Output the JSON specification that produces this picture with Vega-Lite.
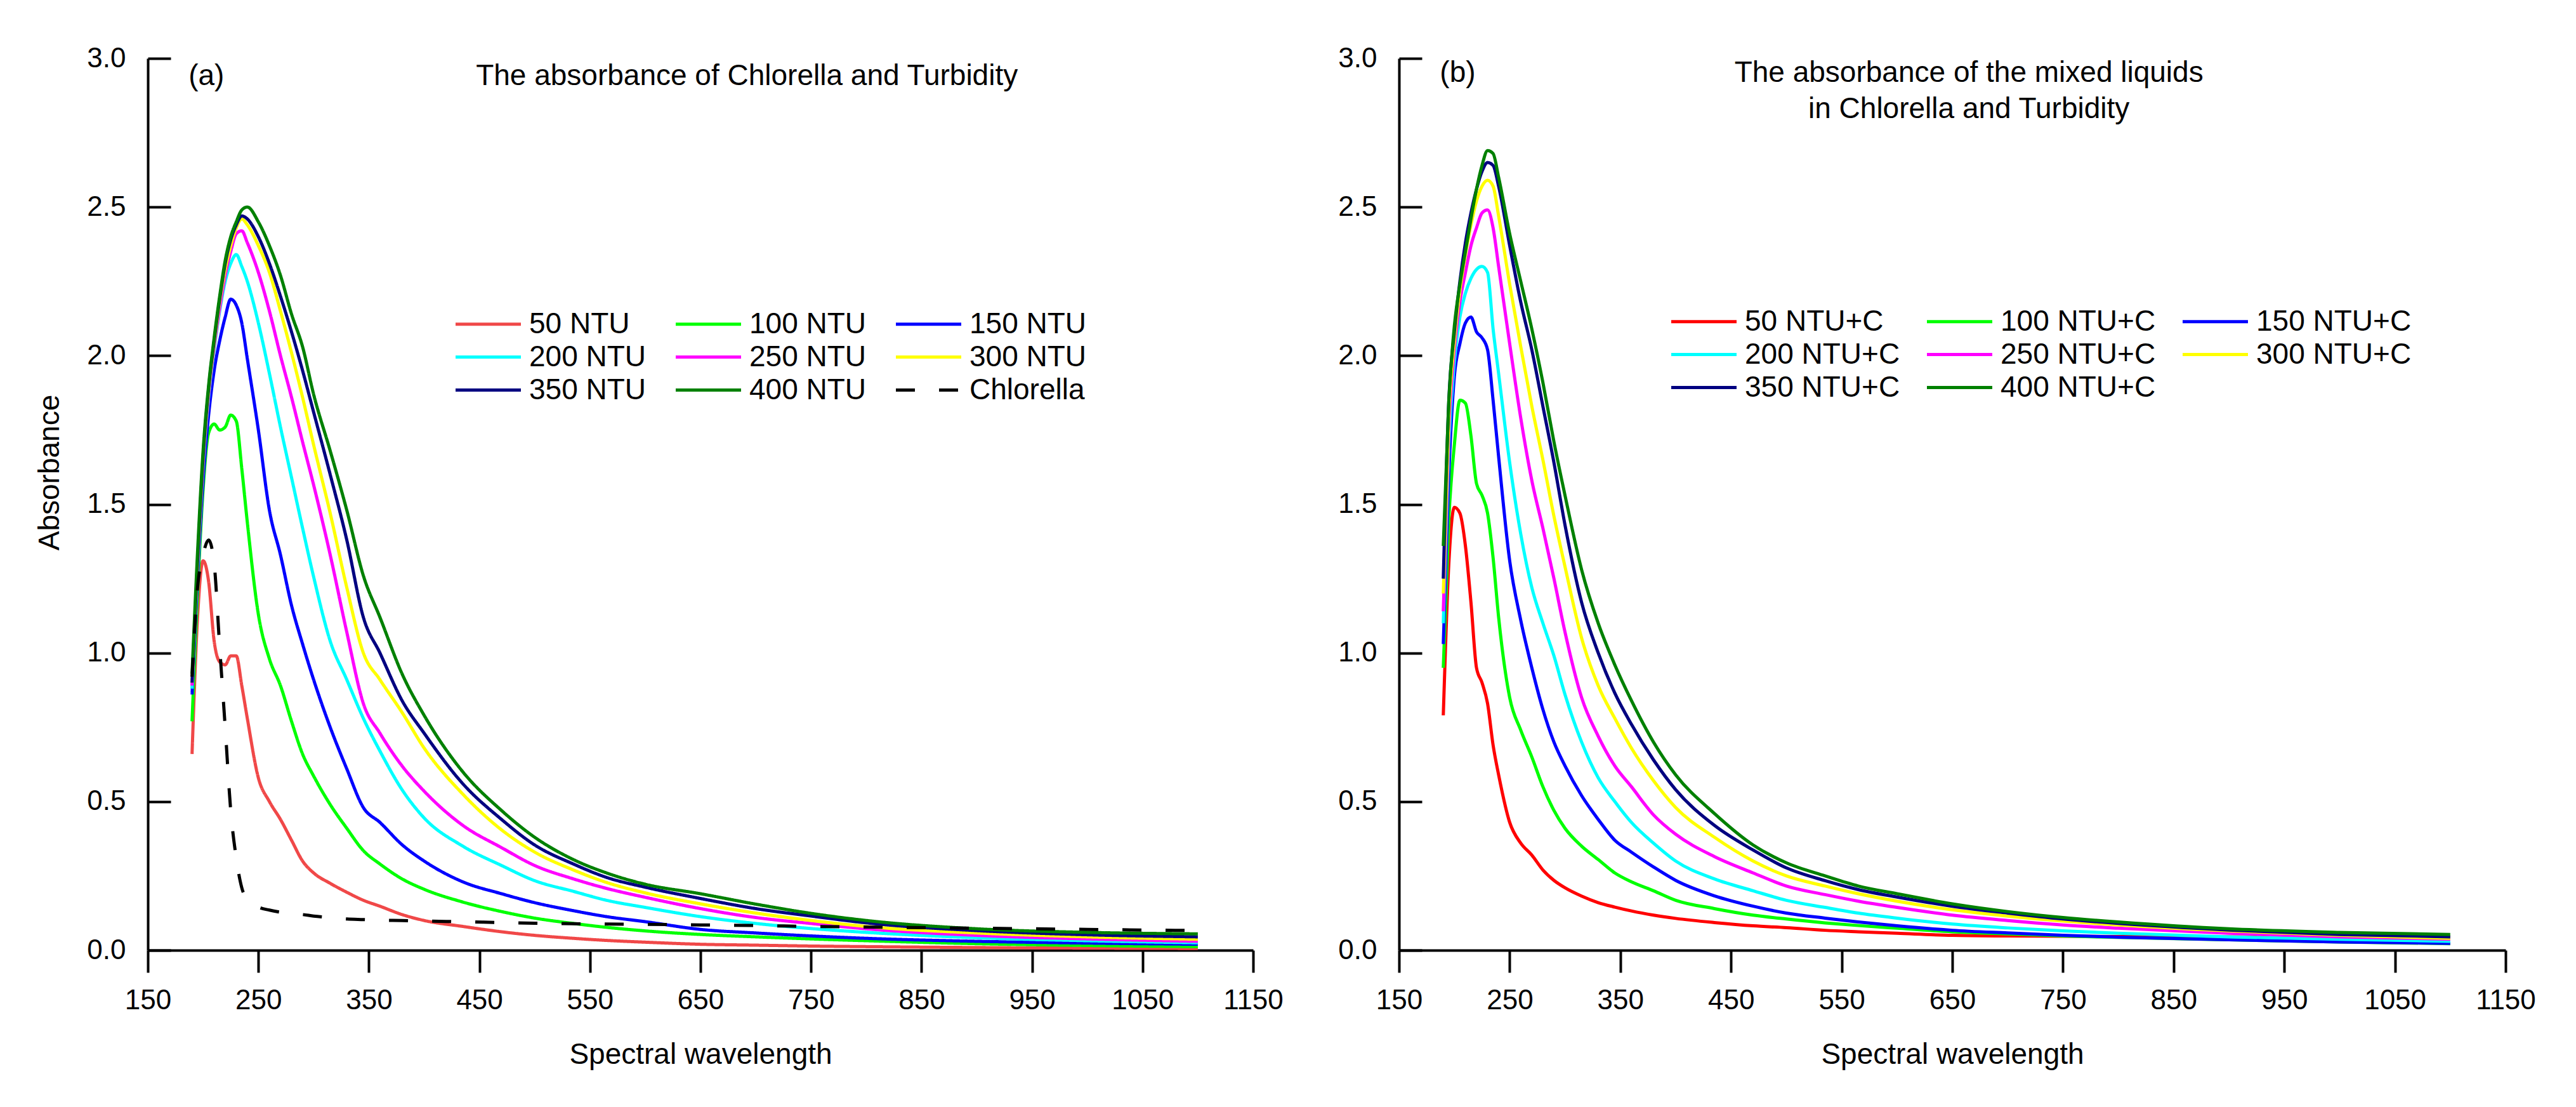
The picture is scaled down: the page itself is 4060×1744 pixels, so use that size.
{
  "$schema": "https://vega.github.io/schema/vega-lite/v6.json",
  "background": "white",
  "padding": {"left": 55, "top": 70, "right": 10, "bottom": 10},
  "bounds": "flush",
  "spacing": 230,
  "datasets": {
    "turbidity": [
      {"sample":"50 NTU","nm":190,"abs":0.66},{"sample":"50 NTU","nm":195,"abs":1.12},{"sample":"50 NTU","nm":200,"abs":1.31},{"sample":"50 NTU","nm":205,"abs":1.24},{"sample":"50 NTU","nm":210,"abs":1.04},{"sample":"50 NTU","nm":215,"abs":0.97},{"sample":"50 NTU","nm":220,"abs":0.96},{"sample":"50 NTU","nm":225,"abs":0.99},{"sample":"50 NTU","nm":230,"abs":0.99},{"sample":"50 NTU","nm":235,"abs":0.89},{"sample":"50 NTU","nm":240,"abs":0.78},{"sample":"50 NTU","nm":250,"abs":0.58},{"sample":"50 NTU","nm":260,"abs":0.5},{"sample":"50 NTU","nm":270,"abs":0.44},{"sample":"50 NTU","nm":280,"abs":0.37},{"sample":"50 NTU","nm":290,"abs":0.3},{"sample":"50 NTU","nm":300,"abs":0.26},{"sample":"50 NTU","nm":315,"abs":0.225},{"sample":"50 NTU","nm":330,"abs":0.195},{"sample":"50 NTU","nm":345,"abs":0.168},{"sample":"50 NTU","nm":360,"abs":0.148},{"sample":"50 NTU","nm":380,"abs":0.12},{"sample":"50 NTU","nm":400,"abs":0.1},{"sample":"50 NTU","nm":435,"abs":0.08},{"sample":"50 NTU","nm":470,"abs":0.062},{"sample":"50 NTU","nm":500,"abs":0.05},{"sample":"50 NTU","nm":535,"abs":0.04},{"sample":"50 NTU","nm":565,"abs":0.033},{"sample":"50 NTU","nm":600,"abs":0.027},{"sample":"50 NTU","nm":650,"abs":0.02},{"sample":"50 NTU","nm":700,"abs":0.017},{"sample":"50 NTU","nm":750,"abs":0.014},{"sample":"50 NTU","nm":800,"abs":0.012},{"sample":"50 NTU","nm":900,"abs":0.009},{"sample":"50 NTU","nm":1000,"abs":0.007},{"sample":"50 NTU","nm":1100,"abs":0.006},
      {"sample":"100 NTU","nm":190,"abs":0.77},{"sample":"100 NTU","nm":195,"abs":1.2},{"sample":"100 NTU","nm":200,"abs":1.55},{"sample":"100 NTU","nm":205,"abs":1.74},{"sample":"100 NTU","nm":210,"abs":1.77},{"sample":"100 NTU","nm":215,"abs":1.75},{"sample":"100 NTU","nm":220,"abs":1.76},{"sample":"100 NTU","nm":225,"abs":1.8},{"sample":"100 NTU","nm":230,"abs":1.78},{"sample":"100 NTU","nm":235,"abs":1.62},{"sample":"100 NTU","nm":240,"abs":1.44},{"sample":"100 NTU","nm":250,"abs":1.13},{"sample":"100 NTU","nm":260,"abs":0.98},{"sample":"100 NTU","nm":270,"abs":0.89},{"sample":"100 NTU","nm":280,"abs":0.77},{"sample":"100 NTU","nm":290,"abs":0.66},{"sample":"100 NTU","nm":300,"abs":0.586},{"sample":"100 NTU","nm":315,"abs":0.49},{"sample":"100 NTU","nm":330,"abs":0.41},{"sample":"100 NTU","nm":345,"abs":0.335},{"sample":"100 NTU","nm":360,"abs":0.29},{"sample":"100 NTU","nm":380,"abs":0.24},{"sample":"100 NTU","nm":400,"abs":0.205},{"sample":"100 NTU","nm":435,"abs":0.162},{"sample":"100 NTU","nm":470,"abs":0.13},{"sample":"100 NTU","nm":500,"abs":0.108},{"sample":"100 NTU","nm":535,"abs":0.09},{"sample":"100 NTU","nm":565,"abs":0.077},{"sample":"100 NTU","nm":600,"abs":0.065},{"sample":"100 NTU","nm":650,"abs":0.053},{"sample":"100 NTU","nm":700,"abs":0.045},{"sample":"100 NTU","nm":750,"abs":0.038},{"sample":"100 NTU","nm":800,"abs":0.032},{"sample":"100 NTU","nm":900,"abs":0.022},{"sample":"100 NTU","nm":1000,"abs":0.016},{"sample":"100 NTU","nm":1100,"abs":0.012},
      {"sample":"150 NTU","nm":190,"abs":0.86},{"sample":"150 NTU","nm":195,"abs":1.25},{"sample":"150 NTU","nm":200,"abs":1.58},{"sample":"150 NTU","nm":205,"abs":1.8},{"sample":"150 NTU","nm":210,"abs":1.95},{"sample":"150 NTU","nm":215,"abs":2.05},{"sample":"150 NTU","nm":220,"abs":2.13},{"sample":"150 NTU","nm":225,"abs":2.19},{"sample":"150 NTU","nm":230,"abs":2.17},{"sample":"150 NTU","nm":235,"abs":2.11},{"sample":"150 NTU","nm":240,"abs":1.99},{"sample":"150 NTU","nm":250,"abs":1.75},{"sample":"150 NTU","nm":260,"abs":1.48},{"sample":"150 NTU","nm":270,"abs":1.33},{"sample":"150 NTU","nm":280,"abs":1.16},{"sample":"150 NTU","nm":290,"abs":1.03},{"sample":"150 NTU","nm":300,"abs":0.91},{"sample":"150 NTU","nm":315,"abs":0.75},{"sample":"150 NTU","nm":330,"abs":0.61},{"sample":"150 NTU","nm":345,"abs":0.48},{"sample":"150 NTU","nm":360,"abs":0.43},{"sample":"150 NTU","nm":380,"abs":0.355},{"sample":"150 NTU","nm":400,"abs":0.3},{"sample":"150 NTU","nm":435,"abs":0.23},{"sample":"150 NTU","nm":470,"abs":0.19},{"sample":"150 NTU","nm":500,"abs":0.16},{"sample":"150 NTU","nm":535,"abs":0.133},{"sample":"150 NTU","nm":565,"abs":0.113},{"sample":"150 NTU","nm":600,"abs":0.096},{"sample":"150 NTU","nm":650,"abs":0.07},{"sample":"150 NTU","nm":700,"abs":0.058},{"sample":"150 NTU","nm":750,"abs":0.048},{"sample":"150 NTU","nm":800,"abs":0.04},{"sample":"150 NTU","nm":900,"abs":0.03},{"sample":"150 NTU","nm":1000,"abs":0.024},{"sample":"150 NTU","nm":1100,"abs":0.02},
      {"sample":"200 NTU","nm":190,"abs":0.88},{"sample":"200 NTU","nm":195,"abs":1.28},{"sample":"200 NTU","nm":200,"abs":1.63},{"sample":"200 NTU","nm":205,"abs":1.86},{"sample":"200 NTU","nm":210,"abs":2.02},{"sample":"200 NTU","nm":215,"abs":2.15},{"sample":"200 NTU","nm":220,"abs":2.25},{"sample":"200 NTU","nm":225,"abs":2.31},{"sample":"200 NTU","nm":230,"abs":2.34},{"sample":"200 NTU","nm":235,"abs":2.3},{"sample":"200 NTU","nm":240,"abs":2.25},{"sample":"200 NTU","nm":250,"abs":2.11},{"sample":"200 NTU","nm":260,"abs":1.94},{"sample":"200 NTU","nm":270,"abs":1.76},{"sample":"200 NTU","nm":280,"abs":1.59},{"sample":"200 NTU","nm":290,"abs":1.42},{"sample":"200 NTU","nm":300,"abs":1.256},{"sample":"200 NTU","nm":315,"abs":1.04},{"sample":"200 NTU","nm":330,"abs":0.91},{"sample":"200 NTU","nm":345,"abs":0.78},{"sample":"200 NTU","nm":360,"abs":0.67},{"sample":"200 NTU","nm":380,"abs":0.54},{"sample":"200 NTU","nm":400,"abs":0.445},{"sample":"200 NTU","nm":435,"abs":0.35},{"sample":"200 NTU","nm":470,"abs":0.285},{"sample":"200 NTU","nm":500,"abs":0.234},{"sample":"200 NTU","nm":535,"abs":0.198},{"sample":"200 NTU","nm":565,"abs":0.168},{"sample":"200 NTU","nm":600,"abs":0.144},{"sample":"200 NTU","nm":650,"abs":0.113},{"sample":"200 NTU","nm":700,"abs":0.09},{"sample":"200 NTU","nm":750,"abs":0.073},{"sample":"200 NTU","nm":800,"abs":0.06},{"sample":"200 NTU","nm":900,"abs":0.042},{"sample":"200 NTU","nm":1000,"abs":0.032},{"sample":"200 NTU","nm":1100,"abs":0.025},
      {"sample":"250 NTU","nm":190,"abs":0.89},{"sample":"250 NTU","nm":195,"abs":1.29},{"sample":"250 NTU","nm":200,"abs":1.64},{"sample":"250 NTU","nm":205,"abs":1.87},{"sample":"250 NTU","nm":210,"abs":2.03},{"sample":"250 NTU","nm":215,"abs":2.16},{"sample":"250 NTU","nm":220,"abs":2.27},{"sample":"250 NTU","nm":225,"abs":2.35},{"sample":"250 NTU","nm":230,"abs":2.41},{"sample":"250 NTU","nm":235,"abs":2.42},{"sample":"250 NTU","nm":240,"abs":2.38},{"sample":"250 NTU","nm":250,"abs":2.28},{"sample":"250 NTU","nm":260,"abs":2.15},{"sample":"250 NTU","nm":270,"abs":2.0},{"sample":"250 NTU","nm":280,"abs":1.86},{"sample":"250 NTU","nm":290,"abs":1.71},{"sample":"250 NTU","nm":300,"abs":1.565},{"sample":"250 NTU","nm":315,"abs":1.33},{"sample":"250 NTU","nm":330,"abs":1.07},{"sample":"250 NTU","nm":345,"abs":0.83},{"sample":"250 NTU","nm":360,"abs":0.73},{"sample":"250 NTU","nm":380,"abs":0.62},{"sample":"250 NTU","nm":400,"abs":0.535},{"sample":"250 NTU","nm":435,"abs":0.42},{"sample":"250 NTU","nm":470,"abs":0.345},{"sample":"250 NTU","nm":500,"abs":0.285},{"sample":"250 NTU","nm":535,"abs":0.24},{"sample":"250 NTU","nm":565,"abs":0.208},{"sample":"250 NTU","nm":600,"abs":0.178},{"sample":"250 NTU","nm":650,"abs":0.14},{"sample":"250 NTU","nm":700,"abs":0.11},{"sample":"250 NTU","nm":750,"abs":0.09},{"sample":"250 NTU","nm":800,"abs":0.072},{"sample":"250 NTU","nm":900,"abs":0.05},{"sample":"250 NTU","nm":1000,"abs":0.038},{"sample":"250 NTU","nm":1100,"abs":0.03},
      {"sample":"300 NTU","nm":190,"abs":0.9},{"sample":"300 NTU","nm":195,"abs":1.3},{"sample":"300 NTU","nm":200,"abs":1.65},{"sample":"300 NTU","nm":205,"abs":1.88},{"sample":"300 NTU","nm":210,"abs":2.04},{"sample":"300 NTU","nm":215,"abs":2.18},{"sample":"300 NTU","nm":220,"abs":2.29},{"sample":"300 NTU","nm":225,"abs":2.37},{"sample":"300 NTU","nm":230,"abs":2.43},{"sample":"300 NTU","nm":235,"abs":2.46},{"sample":"300 NTU","nm":240,"abs":2.44},{"sample":"300 NTU","nm":250,"abs":2.37},{"sample":"300 NTU","nm":260,"abs":2.28},{"sample":"300 NTU","nm":270,"abs":2.15},{"sample":"300 NTU","nm":280,"abs":2.01},{"sample":"300 NTU","nm":290,"abs":1.86},{"sample":"300 NTU","nm":300,"abs":1.7},{"sample":"300 NTU","nm":315,"abs":1.47},{"sample":"300 NTU","nm":330,"abs":1.22},{"sample":"300 NTU","nm":345,"abs":1.0},{"sample":"300 NTU","nm":360,"abs":0.91},{"sample":"300 NTU","nm":380,"abs":0.8},{"sample":"300 NTU","nm":400,"abs":0.68},{"sample":"300 NTU","nm":435,"abs":0.525},{"sample":"300 NTU","nm":470,"abs":0.405},{"sample":"300 NTU","nm":500,"abs":0.33},{"sample":"300 NTU","nm":535,"abs":0.27},{"sample":"300 NTU","nm":565,"abs":0.228},{"sample":"300 NTU","nm":600,"abs":0.193},{"sample":"300 NTU","nm":650,"abs":0.156},{"sample":"300 NTU","nm":700,"abs":0.125},{"sample":"300 NTU","nm":750,"abs":0.1},{"sample":"300 NTU","nm":800,"abs":0.08},{"sample":"300 NTU","nm":900,"abs":0.058},{"sample":"300 NTU","nm":1000,"abs":0.045},{"sample":"300 NTU","nm":1100,"abs":0.037},
      {"sample":"350 NTU","nm":190,"abs":0.9},{"sample":"350 NTU","nm":195,"abs":1.31},{"sample":"350 NTU","nm":200,"abs":1.66},{"sample":"350 NTU","nm":205,"abs":1.89},{"sample":"350 NTU","nm":210,"abs":2.05},{"sample":"350 NTU","nm":215,"abs":2.19},{"sample":"350 NTU","nm":220,"abs":2.31},{"sample":"350 NTU","nm":225,"abs":2.39},{"sample":"350 NTU","nm":230,"abs":2.44},{"sample":"350 NTU","nm":235,"abs":2.47},{"sample":"350 NTU","nm":240,"abs":2.46},{"sample":"350 NTU","nm":250,"abs":2.4},{"sample":"350 NTU","nm":260,"abs":2.31},{"sample":"350 NTU","nm":270,"abs":2.2},{"sample":"350 NTU","nm":280,"abs":2.08},{"sample":"350 NTU","nm":290,"abs":1.95},{"sample":"350 NTU","nm":300,"abs":1.81},{"sample":"350 NTU","nm":315,"abs":1.6},{"sample":"350 NTU","nm":330,"abs":1.38},{"sample":"350 NTU","nm":345,"abs":1.12},{"sample":"350 NTU","nm":360,"abs":1.0},{"sample":"350 NTU","nm":380,"abs":0.84},{"sample":"350 NTU","nm":400,"abs":0.73},{"sample":"350 NTU","nm":435,"abs":0.56},{"sample":"350 NTU","nm":470,"abs":0.44},{"sample":"350 NTU","nm":500,"abs":0.354},{"sample":"350 NTU","nm":535,"abs":0.29},{"sample":"350 NTU","nm":565,"abs":0.245},{"sample":"350 NTU","nm":600,"abs":0.212},{"sample":"350 NTU","nm":650,"abs":0.174},{"sample":"350 NTU","nm":700,"abs":0.14},{"sample":"350 NTU","nm":750,"abs":0.115},{"sample":"350 NTU","nm":800,"abs":0.092},{"sample":"350 NTU","nm":900,"abs":0.066},{"sample":"350 NTU","nm":1000,"abs":0.052},{"sample":"350 NTU","nm":1100,"abs":0.045},
      {"sample":"400 NTU","nm":190,"abs":0.93},{"sample":"400 NTU","nm":195,"abs":1.34},{"sample":"400 NTU","nm":200,"abs":1.68},{"sample":"400 NTU","nm":205,"abs":1.9},{"sample":"400 NTU","nm":210,"abs":2.06},{"sample":"400 NTU","nm":215,"abs":2.2},{"sample":"400 NTU","nm":220,"abs":2.32},{"sample":"400 NTU","nm":225,"abs":2.4},{"sample":"400 NTU","nm":230,"abs":2.45},{"sample":"400 NTU","nm":235,"abs":2.49},{"sample":"400 NTU","nm":240,"abs":2.5},{"sample":"400 NTU","nm":250,"abs":2.45},{"sample":"400 NTU","nm":260,"abs":2.37},{"sample":"400 NTU","nm":270,"abs":2.27},{"sample":"400 NTU","nm":280,"abs":2.14},{"sample":"400 NTU","nm":290,"abs":2.03},{"sample":"400 NTU","nm":300,"abs":1.87},{"sample":"400 NTU","nm":315,"abs":1.68},{"sample":"400 NTU","nm":330,"abs":1.48},{"sample":"400 NTU","nm":345,"abs":1.26},{"sample":"400 NTU","nm":360,"abs":1.12},{"sample":"400 NTU","nm":380,"abs":0.93},{"sample":"400 NTU","nm":400,"abs":0.79},{"sample":"400 NTU","nm":435,"abs":0.6},{"sample":"400 NTU","nm":470,"abs":0.47},{"sample":"400 NTU","nm":500,"abs":0.38},{"sample":"400 NTU","nm":535,"abs":0.305},{"sample":"400 NTU","nm":565,"abs":0.26},{"sample":"400 NTU","nm":600,"abs":0.222},{"sample":"400 NTU","nm":650,"abs":0.19},{"sample":"400 NTU","nm":700,"abs":0.155},{"sample":"400 NTU","nm":750,"abs":0.124},{"sample":"400 NTU","nm":800,"abs":0.1},{"sample":"400 NTU","nm":900,"abs":0.072},{"sample":"400 NTU","nm":1000,"abs":0.06},{"sample":"400 NTU","nm":1100,"abs":0.055},
      {"sample":"Chlorella","nm":190,"abs":0.92},{"sample":"Chlorella","nm":195,"abs":1.22},{"sample":"Chlorella","nm":200,"abs":1.33},{"sample":"Chlorella","nm":205,"abs":1.38},{"sample":"Chlorella","nm":210,"abs":1.3},{"sample":"Chlorella","nm":215,"abs":1.02},{"sample":"Chlorella","nm":220,"abs":0.75},{"sample":"Chlorella","nm":225,"abs":0.47},{"sample":"Chlorella","nm":230,"abs":0.31},{"sample":"Chlorella","nm":235,"abs":0.21},{"sample":"Chlorella","nm":240,"abs":0.17},{"sample":"Chlorella","nm":250,"abs":0.145},{"sample":"Chlorella","nm":260,"abs":0.135},{"sample":"Chlorella","nm":270,"abs":0.128},{"sample":"Chlorella","nm":280,"abs":0.123},{"sample":"Chlorella","nm":290,"abs":0.12},{"sample":"Chlorella","nm":300,"abs":0.115},{"sample":"Chlorella","nm":315,"abs":0.11},{"sample":"Chlorella","nm":330,"abs":0.105},{"sample":"Chlorella","nm":345,"abs":0.103},{"sample":"Chlorella","nm":360,"abs":0.101},{"sample":"Chlorella","nm":380,"abs":0.1},{"sample":"Chlorella","nm":400,"abs":0.098},{"sample":"Chlorella","nm":435,"abs":0.096},{"sample":"Chlorella","nm":470,"abs":0.093},{"sample":"Chlorella","nm":500,"abs":0.091},{"sample":"Chlorella","nm":535,"abs":0.089},{"sample":"Chlorella","nm":565,"abs":0.088},{"sample":"Chlorella","nm":600,"abs":0.087},{"sample":"Chlorella","nm":650,"abs":0.085},{"sample":"Chlorella","nm":700,"abs":0.083},{"sample":"Chlorella","nm":750,"abs":0.08},{"sample":"Chlorella","nm":800,"abs":0.078},{"sample":"Chlorella","nm":900,"abs":0.074},{"sample":"Chlorella","nm":1000,"abs":0.07},{"sample":"Chlorella","nm":1100,"abs":0.066}
    ],
    "mixed": [
      {"sample":"50 NTU+C","nm":190,"abs":0.79},{"sample":"50 NTU+C","nm":195,"abs":1.3},{"sample":"50 NTU+C","nm":200,"abs":1.49},{"sample":"50 NTU+C","nm":205,"abs":1.47},{"sample":"50 NTU+C","nm":210,"abs":1.36},{"sample":"50 NTU+C","nm":215,"abs":1.17},{"sample":"50 NTU+C","nm":220,"abs":0.95},{"sample":"50 NTU+C","nm":225,"abs":0.9},{"sample":"50 NTU+C","nm":230,"abs":0.83},{"sample":"50 NTU+C","nm":235,"abs":0.69},{"sample":"50 NTU+C","nm":240,"abs":0.59},{"sample":"50 NTU+C","nm":250,"abs":0.43},{"sample":"50 NTU+C","nm":260,"abs":0.36},{"sample":"50 NTU+C","nm":270,"abs":0.32},{"sample":"50 NTU+C","nm":280,"abs":0.27},{"sample":"50 NTU+C","nm":290,"abs":0.235},{"sample":"50 NTU+C","nm":300,"abs":0.21},{"sample":"50 NTU+C","nm":315,"abs":0.182},{"sample":"50 NTU+C","nm":330,"abs":0.16},{"sample":"50 NTU+C","nm":345,"abs":0.145},{"sample":"50 NTU+C","nm":360,"abs":0.132},{"sample":"50 NTU+C","nm":380,"abs":0.118},{"sample":"50 NTU+C","nm":400,"abs":0.107},{"sample":"50 NTU+C","nm":435,"abs":0.093},{"sample":"50 NTU+C","nm":470,"abs":0.082},{"sample":"50 NTU+C","nm":500,"abs":0.076},{"sample":"50 NTU+C","nm":535,"abs":0.067},{"sample":"50 NTU+C","nm":565,"abs":0.062},{"sample":"50 NTU+C","nm":600,"abs":0.057},{"sample":"50 NTU+C","nm":650,"abs":0.05},{"sample":"50 NTU+C","nm":700,"abs":0.048},{"sample":"50 NTU+C","nm":750,"abs":0.047},{"sample":"50 NTU+C","nm":800,"abs":0.046},{"sample":"50 NTU+C","nm":900,"abs":0.045},{"sample":"50 NTU+C","nm":1000,"abs":0.044},{"sample":"50 NTU+C","nm":1100,"abs":0.043},
      {"sample":"100 NTU+C","nm":190,"abs":0.95},{"sample":"100 NTU+C","nm":195,"abs":1.45},{"sample":"100 NTU+C","nm":200,"abs":1.7},{"sample":"100 NTU+C","nm":205,"abs":1.85},{"sample":"100 NTU+C","nm":210,"abs":1.84},{"sample":"100 NTU+C","nm":215,"abs":1.73},{"sample":"100 NTU+C","nm":220,"abs":1.57},{"sample":"100 NTU+C","nm":225,"abs":1.53},{"sample":"100 NTU+C","nm":230,"abs":1.47},{"sample":"100 NTU+C","nm":235,"abs":1.32},{"sample":"100 NTU+C","nm":240,"abs":1.12},{"sample":"100 NTU+C","nm":250,"abs":0.85},{"sample":"100 NTU+C","nm":260,"abs":0.74},{"sample":"100 NTU+C","nm":270,"abs":0.65},{"sample":"100 NTU+C","nm":280,"abs":0.55},{"sample":"100 NTU+C","nm":290,"abs":0.47},{"sample":"100 NTU+C","nm":300,"abs":0.41},{"sample":"100 NTU+C","nm":315,"abs":0.35},{"sample":"100 NTU+C","nm":330,"abs":0.305},{"sample":"100 NTU+C","nm":345,"abs":0.26},{"sample":"100 NTU+C","nm":360,"abs":0.23},{"sample":"100 NTU+C","nm":380,"abs":0.2},{"sample":"100 NTU+C","nm":400,"abs":0.168},{"sample":"100 NTU+C","nm":435,"abs":0.14},{"sample":"100 NTU+C","nm":470,"abs":0.118},{"sample":"100 NTU+C","nm":500,"abs":0.105},{"sample":"100 NTU+C","nm":535,"abs":0.092},{"sample":"100 NTU+C","nm":565,"abs":0.083},{"sample":"100 NTU+C","nm":600,"abs":0.074},{"sample":"100 NTU+C","nm":650,"abs":0.062},{"sample":"100 NTU+C","nm":700,"abs":0.055},{"sample":"100 NTU+C","nm":750,"abs":0.048},{"sample":"100 NTU+C","nm":800,"abs":0.043},{"sample":"100 NTU+C","nm":900,"abs":0.035},{"sample":"100 NTU+C","nm":1000,"abs":0.028},{"sample":"100 NTU+C","nm":1100,"abs":0.022},
      {"sample":"150 NTU+C","nm":190,"abs":1.03},{"sample":"150 NTU+C","nm":195,"abs":1.6},{"sample":"150 NTU+C","nm":200,"abs":1.93},{"sample":"150 NTU+C","nm":205,"abs":2.04},{"sample":"150 NTU+C","nm":210,"abs":2.11},{"sample":"150 NTU+C","nm":215,"abs":2.13},{"sample":"150 NTU+C","nm":220,"abs":2.08},{"sample":"150 NTU+C","nm":225,"abs":2.06},{"sample":"150 NTU+C","nm":230,"abs":2.02},{"sample":"150 NTU+C","nm":235,"abs":1.85},{"sample":"150 NTU+C","nm":240,"abs":1.66},{"sample":"150 NTU+C","nm":250,"abs":1.31},{"sample":"150 NTU+C","nm":260,"abs":1.11},{"sample":"150 NTU+C","nm":270,"abs":0.95},{"sample":"150 NTU+C","nm":280,"abs":0.81},{"sample":"150 NTU+C","nm":290,"abs":0.7},{"sample":"150 NTU+C","nm":300,"abs":0.62},{"sample":"150 NTU+C","nm":315,"abs":0.52},{"sample":"150 NTU+C","nm":330,"abs":0.44},{"sample":"150 NTU+C","nm":345,"abs":0.37},{"sample":"150 NTU+C","nm":360,"abs":0.33},{"sample":"150 NTU+C","nm":380,"abs":0.28},{"sample":"150 NTU+C","nm":400,"abs":0.235},{"sample":"150 NTU+C","nm":435,"abs":0.183},{"sample":"150 NTU+C","nm":470,"abs":0.148},{"sample":"150 NTU+C","nm":500,"abs":0.125},{"sample":"150 NTU+C","nm":535,"abs":0.108},{"sample":"150 NTU+C","nm":565,"abs":0.095},{"sample":"150 NTU+C","nm":600,"abs":0.082},{"sample":"150 NTU+C","nm":650,"abs":0.067},{"sample":"150 NTU+C","nm":700,"abs":0.058},{"sample":"150 NTU+C","nm":750,"abs":0.05},{"sample":"150 NTU+C","nm":800,"abs":0.044},{"sample":"150 NTU+C","nm":900,"abs":0.035},{"sample":"150 NTU+C","nm":1000,"abs":0.028},{"sample":"150 NTU+C","nm":1100,"abs":0.023},
      {"sample":"200 NTU+C","nm":190,"abs":1.1},{"sample":"200 NTU+C","nm":195,"abs":1.7},{"sample":"200 NTU+C","nm":200,"abs":1.98},{"sample":"200 NTU+C","nm":205,"abs":2.13},{"sample":"200 NTU+C","nm":210,"abs":2.21},{"sample":"200 NTU+C","nm":215,"abs":2.26},{"sample":"200 NTU+C","nm":220,"abs":2.29},{"sample":"200 NTU+C","nm":225,"abs":2.3},{"sample":"200 NTU+C","nm":230,"abs":2.28},{"sample":"200 NTU+C","nm":235,"abs":2.09},{"sample":"200 NTU+C","nm":240,"abs":1.94},{"sample":"200 NTU+C","nm":250,"abs":1.64},{"sample":"200 NTU+C","nm":260,"abs":1.4},{"sample":"200 NTU+C","nm":270,"abs":1.22},{"sample":"200 NTU+C","nm":280,"abs":1.1},{"sample":"200 NTU+C","nm":290,"abs":0.99},{"sample":"200 NTU+C","nm":300,"abs":0.86},{"sample":"200 NTU+C","nm":315,"abs":0.7},{"sample":"200 NTU+C","nm":330,"abs":0.58},{"sample":"200 NTU+C","nm":345,"abs":0.5},{"sample":"200 NTU+C","nm":360,"abs":0.43},{"sample":"200 NTU+C","nm":380,"abs":0.36},{"sample":"200 NTU+C","nm":400,"abs":0.3},{"sample":"200 NTU+C","nm":435,"abs":0.24},{"sample":"200 NTU+C","nm":470,"abs":0.2},{"sample":"200 NTU+C","nm":500,"abs":0.168},{"sample":"200 NTU+C","nm":535,"abs":0.144},{"sample":"200 NTU+C","nm":565,"abs":0.125},{"sample":"200 NTU+C","nm":600,"abs":0.108},{"sample":"200 NTU+C","nm":650,"abs":0.088},{"sample":"200 NTU+C","nm":700,"abs":0.075},{"sample":"200 NTU+C","nm":750,"abs":0.065},{"sample":"200 NTU+C","nm":800,"abs":0.057},{"sample":"200 NTU+C","nm":900,"abs":0.045},{"sample":"200 NTU+C","nm":1000,"abs":0.037},{"sample":"200 NTU+C","nm":1100,"abs":0.03},
      {"sample":"250 NTU+C","nm":190,"abs":1.14},{"sample":"250 NTU+C","nm":195,"abs":1.75},{"sample":"250 NTU+C","nm":200,"abs":2.02},{"sample":"250 NTU+C","nm":205,"abs":2.18},{"sample":"250 NTU+C","nm":210,"abs":2.28},{"sample":"250 NTU+C","nm":215,"abs":2.37},{"sample":"250 NTU+C","nm":220,"abs":2.43},{"sample":"250 NTU+C","nm":225,"abs":2.48},{"sample":"250 NTU+C","nm":230,"abs":2.49},{"sample":"250 NTU+C","nm":235,"abs":2.43},{"sample":"250 NTU+C","nm":240,"abs":2.3},{"sample":"250 NTU+C","nm":250,"abs":2.04},{"sample":"250 NTU+C","nm":260,"abs":1.79},{"sample":"250 NTU+C","nm":270,"abs":1.58},{"sample":"250 NTU+C","nm":280,"abs":1.42},{"sample":"250 NTU+C","nm":290,"abs":1.25},{"sample":"250 NTU+C","nm":300,"abs":1.07},{"sample":"250 NTU+C","nm":315,"abs":0.85},{"sample":"250 NTU+C","nm":330,"abs":0.72},{"sample":"250 NTU+C","nm":345,"abs":0.62},{"sample":"250 NTU+C","nm":360,"abs":0.55},{"sample":"250 NTU+C","nm":380,"abs":0.455},{"sample":"250 NTU+C","nm":400,"abs":0.39},{"sample":"250 NTU+C","nm":435,"abs":0.315},{"sample":"250 NTU+C","nm":470,"abs":0.26},{"sample":"250 NTU+C","nm":500,"abs":0.216},{"sample":"250 NTU+C","nm":535,"abs":0.187},{"sample":"250 NTU+C","nm":565,"abs":0.165},{"sample":"250 NTU+C","nm":600,"abs":0.144},{"sample":"250 NTU+C","nm":650,"abs":0.118},{"sample":"250 NTU+C","nm":700,"abs":0.1},{"sample":"250 NTU+C","nm":750,"abs":0.085},{"sample":"250 NTU+C","nm":800,"abs":0.074},{"sample":"250 NTU+C","nm":900,"abs":0.057},{"sample":"250 NTU+C","nm":1000,"abs":0.045},{"sample":"250 NTU+C","nm":1100,"abs":0.037},
      {"sample":"300 NTU+C","nm":190,"abs":1.2},{"sample":"300 NTU+C","nm":195,"abs":1.8},{"sample":"300 NTU+C","nm":200,"abs":2.05},{"sample":"300 NTU+C","nm":205,"abs":2.22},{"sample":"300 NTU+C","nm":210,"abs":2.34},{"sample":"300 NTU+C","nm":215,"abs":2.44},{"sample":"300 NTU+C","nm":220,"abs":2.52},{"sample":"300 NTU+C","nm":225,"abs":2.57},{"sample":"300 NTU+C","nm":230,"abs":2.59},{"sample":"300 NTU+C","nm":235,"abs":2.57},{"sample":"300 NTU+C","nm":240,"abs":2.47},{"sample":"300 NTU+C","nm":250,"abs":2.24},{"sample":"300 NTU+C","nm":260,"abs":2.03},{"sample":"300 NTU+C","nm":270,"abs":1.83},{"sample":"300 NTU+C","nm":280,"abs":1.65},{"sample":"300 NTU+C","nm":290,"abs":1.46},{"sample":"300 NTU+C","nm":300,"abs":1.29},{"sample":"300 NTU+C","nm":315,"abs":1.05},{"sample":"300 NTU+C","nm":330,"abs":0.89},{"sample":"300 NTU+C","nm":345,"abs":0.78},{"sample":"300 NTU+C","nm":360,"abs":0.68},{"sample":"300 NTU+C","nm":380,"abs":0.57},{"sample":"300 NTU+C","nm":400,"abs":0.48},{"sample":"300 NTU+C","nm":435,"abs":0.38},{"sample":"300 NTU+C","nm":470,"abs":0.3},{"sample":"300 NTU+C","nm":500,"abs":0.25},{"sample":"300 NTU+C","nm":535,"abs":0.216},{"sample":"300 NTU+C","nm":565,"abs":0.19},{"sample":"300 NTU+C","nm":600,"abs":0.165},{"sample":"300 NTU+C","nm":650,"abs":0.136},{"sample":"300 NTU+C","nm":700,"abs":0.115},{"sample":"300 NTU+C","nm":750,"abs":0.098},{"sample":"300 NTU+C","nm":800,"abs":0.085},{"sample":"300 NTU+C","nm":900,"abs":0.065},{"sample":"300 NTU+C","nm":1000,"abs":0.05},{"sample":"300 NTU+C","nm":1100,"abs":0.04},
      {"sample":"350 NTU+C","nm":190,"abs":1.25},{"sample":"350 NTU+C","nm":195,"abs":1.85},{"sample":"350 NTU+C","nm":200,"abs":2.08},{"sample":"350 NTU+C","nm":205,"abs":2.25},{"sample":"350 NTU+C","nm":210,"abs":2.38},{"sample":"350 NTU+C","nm":215,"abs":2.48},{"sample":"350 NTU+C","nm":220,"abs":2.56},{"sample":"350 NTU+C","nm":225,"abs":2.62},{"sample":"350 NTU+C","nm":230,"abs":2.65},{"sample":"350 NTU+C","nm":235,"abs":2.64},{"sample":"350 NTU+C","nm":240,"abs":2.57},{"sample":"350 NTU+C","nm":250,"abs":2.37},{"sample":"350 NTU+C","nm":260,"abs":2.18},{"sample":"350 NTU+C","nm":270,"abs":2.02},{"sample":"350 NTU+C","nm":280,"abs":1.83},{"sample":"350 NTU+C","nm":290,"abs":1.64},{"sample":"350 NTU+C","nm":300,"abs":1.43},{"sample":"350 NTU+C","nm":315,"abs":1.17},{"sample":"350 NTU+C","nm":330,"abs":1.0},{"sample":"350 NTU+C","nm":345,"abs":0.865},{"sample":"350 NTU+C","nm":360,"abs":0.76},{"sample":"350 NTU+C","nm":380,"abs":0.64},{"sample":"350 NTU+C","nm":400,"abs":0.54},{"sample":"350 NTU+C","nm":435,"abs":0.42},{"sample":"350 NTU+C","nm":470,"abs":0.337},{"sample":"350 NTU+C","nm":500,"abs":0.277},{"sample":"350 NTU+C","nm":535,"abs":0.234},{"sample":"350 NTU+C","nm":565,"abs":0.204},{"sample":"350 NTU+C","nm":600,"abs":0.179},{"sample":"350 NTU+C","nm":650,"abs":0.148},{"sample":"350 NTU+C","nm":700,"abs":0.125},{"sample":"350 NTU+C","nm":750,"abs":0.105},{"sample":"350 NTU+C","nm":800,"abs":0.09},{"sample":"350 NTU+C","nm":900,"abs":0.068},{"sample":"350 NTU+C","nm":1000,"abs":0.053},{"sample":"350 NTU+C","nm":1100,"abs":0.045},
      {"sample":"400 NTU+C","nm":190,"abs":1.36},{"sample":"400 NTU+C","nm":195,"abs":1.85},{"sample":"400 NTU+C","nm":200,"abs":2.1},{"sample":"400 NTU+C","nm":205,"abs":2.24},{"sample":"400 NTU+C","nm":210,"abs":2.35},{"sample":"400 NTU+C","nm":215,"abs":2.46},{"sample":"400 NTU+C","nm":220,"abs":2.56},{"sample":"400 NTU+C","nm":225,"abs":2.64},{"sample":"400 NTU+C","nm":230,"abs":2.69},{"sample":"400 NTU+C","nm":235,"abs":2.68},{"sample":"400 NTU+C","nm":240,"abs":2.6},{"sample":"400 NTU+C","nm":250,"abs":2.41},{"sample":"400 NTU+C","nm":260,"abs":2.25},{"sample":"400 NTU+C","nm":270,"abs":2.09},{"sample":"400 NTU+C","nm":280,"abs":1.91},{"sample":"400 NTU+C","nm":290,"abs":1.71},{"sample":"400 NTU+C","nm":300,"abs":1.53},{"sample":"400 NTU+C","nm":315,"abs":1.28},{"sample":"400 NTU+C","nm":330,"abs":1.1},{"sample":"400 NTU+C","nm":345,"abs":0.96},{"sample":"400 NTU+C","nm":360,"abs":0.84},{"sample":"400 NTU+C","nm":380,"abs":0.7},{"sample":"400 NTU+C","nm":400,"abs":0.59},{"sample":"400 NTU+C","nm":435,"abs":0.46},{"sample":"400 NTU+C","nm":470,"abs":0.354},{"sample":"400 NTU+C","nm":500,"abs":0.294},{"sample":"400 NTU+C","nm":535,"abs":0.25},{"sample":"400 NTU+C","nm":565,"abs":0.216},{"sample":"400 NTU+C","nm":600,"abs":0.19},{"sample":"400 NTU+C","nm":650,"abs":0.156},{"sample":"400 NTU+C","nm":700,"abs":0.13},{"sample":"400 NTU+C","nm":750,"abs":0.11},{"sample":"400 NTU+C","nm":800,"abs":0.095},{"sample":"400 NTU+C","nm":900,"abs":0.072},{"sample":"400 NTU+C","nm":1000,"abs":0.06},{"sample":"400 NTU+C","nm":1100,"abs":0.053}
    ]
  },
  "hconcat": [
    {
      "width": 1742,
      "height": 1405,
      "layer": [
        {
          "data": {"name": "turbidity"},
          "mark": {"type": "line", "strokeWidth": 5, "interpolate": "monotone"},
          "encoding": {
            "x": {
              "field": "nm", "type": "quantitative",
              "scale": {"domain": [150, 1150], "nice": false, "zero": false},
              "axis": {"values": [150, 250, 350, 450, 550, 650, 750, 850, 950, 1050, 1150], "format": "d", "title": "Spectral wavelength", "tickSize": 35, "labelPadding": 44, "labelBaseline": "middle", "titleY": 164, "titleBaseline": "middle"}
            },
            "y": {
              "field": "abs", "type": "quantitative",
              "scale": {"domain": [0, 3], "nice": false},
              "axis": {"values": [0, 0.5, 1, 1.5, 2, 2.5, 3], "format": ".1f", "title": "Absorbance", "tickSize": -36, "labelPadding": 71, "titleX": -155, "titleY": 652, "titleBaseline": "middle"}
            },
            "color": {
              "field": "sample", "type": "nominal",
              "scale": {
                "domain": ["50 NTU", "100 NTU", "150 NTU", "200 NTU", "250 NTU", "300 NTU", "350 NTU", "400 NTU", "Chlorella"],
                "range": ["#F04848", "#00FF00", "#0000FF", "#00FFFF", "#FF00FF", "#FFFF00", "#000080", "#008000", "#000000"]
              },
              "legend": {"title": null, "legendX": 508, "legendY": 390, "columnPadding": 36, "rowPadding": 0}
            },
            "strokeDash": {
              "field": "sample", "type": "nominal",
              "scale": {
                "domain": ["50 NTU", "100 NTU", "150 NTU", "200 NTU", "250 NTU", "300 NTU", "350 NTU", "400 NTU", "Chlorella"],
                "range": [[1, 0], [1, 0], [1, 0], [1, 0], [1, 0], [1, 0], [1, 0], [1, 0], [30, 38]]
              },
              "legend": {"title": null, "legendX": 508, "legendY": 390, "columnPadding": 36, "rowPadding": 0}
            }
          }
        },
        {
          "data": {"values": [
            {"nm": 203, "abs": 2.94, "label": "(a)"},
            {"nm": 692, "abs": 2.94, "label": "The absorbance of Chlorella and Turbidity"}
          ]},
          "mark": {"type": "text", "fontSize": 46, "font": "Liberation Sans", "color": "black", "baseline": "middle"},
          "encoding": {
            "x": {"field": "nm", "type": "quantitative"},
            "y": {"field": "abs", "type": "quantitative"},
            "text": {"field": "label"}
          }
        }
      ]
    },
    {
      "width": 1744,
      "height": 1405,
      "layer": [
        {
          "data": {"name": "mixed"},
          "mark": {"type": "line", "strokeWidth": 5, "interpolate": "monotone"},
          "encoding": {
            "x": {
              "field": "nm", "type": "quantitative",
              "scale": {"domain": [150, 1150], "nice": false, "zero": false},
              "axis": {"values": [150, 250, 350, 450, 550, 650, 750, 850, 950, 1050, 1150], "format": "d", "title": "Spectral wavelength", "tickSize": 35, "labelPadding": 44, "labelBaseline": "middle", "titleY": 164, "titleBaseline": "middle"}
            },
            "y": {
              "field": "abs", "type": "quantitative",
              "scale": {"domain": [0, 3], "nice": false},
              "axis": {"values": [0, 0.5, 1, 1.5, 2, 2.5, 3], "format": ".1f", "title": null, "tickSize": -36, "labelPadding": 71}
            },
            "color": {
              "field": "sample", "type": "nominal",
              "scale": {
                "domain": ["50 NTU+C", "100 NTU+C", "150 NTU+C", "200 NTU+C", "250 NTU+C", "300 NTU+C", "350 NTU+C", "400 NTU+C"],
                "range": ["#FF0000", "#00FF00", "#0000FF", "#00FFFF", "#FF00FF", "#FFFF00", "#000080", "#008000"]
              },
              "legend": {"title": null, "legendX": 452, "legendY": 386, "columnPadding": 32, "rowPadding": 0}
            }
          }
        },
        {
          "data": {"values": [
            {"nm": 203, "abs": 2.95, "label": "(b)"},
            {"nm": 665, "abs": 2.95, "label": "The absorbance of the mixed liquids"},
            {"nm": 665, "abs": 2.83, "label": "in Chlorella and Turbidity"}
          ]},
          "mark": {"type": "text", "fontSize": 46, "font": "Liberation Sans", "color": "black", "baseline": "middle"},
          "encoding": {
            "x": {"field": "nm", "type": "quantitative"},
            "y": {"field": "abs", "type": "quantitative"},
            "text": {"field": "label"}
          }
        }
      ]
    }
  ],
  "resolve": {"scale": {"color": "independent", "strokeDash": "independent"}, "legend": {"color": "independent"}},
  "config": {
    "font": "Liberation Sans",
    "view": {"stroke": null},
    "axis": {
      "grid": false,
      "domainColor": "black",
      "domainWidth": 4,
      "tickColor": "black",
      "tickWidth": 4,
      "labelColor": "black",
      "labelFont": "Liberation Sans",
      "labelFontSize": 44,
      "labelFlush": false,
      "labelOverlap": false,
      "titleFont": "Liberation Sans",
      "titleFontSize": 46,
      "titleFontWeight": "normal",
      "titleColor": "black"
    },
    "legend": {
      "orient": "none",
      "direction": "horizontal",
      "columns": 3,
      "symbolType": "M-2,0H2",
      "symbolSize": 2652,
      "symbolStrokeWidth": 5,
      "labelFont": "Liberation Sans",
      "labelFontSize": 46,
      "labelColor": "black",
      "labelOffset": 36,
      "labelLimit": 1000,
      "rowPadding": 0,
      "padding": 0
    }
  }
}
